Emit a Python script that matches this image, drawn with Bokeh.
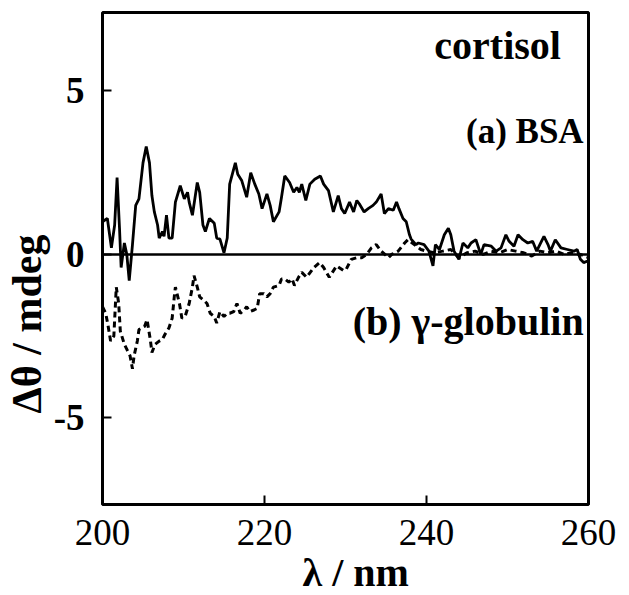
from bokeh.plotting import figure
from bokeh.models import Label, Span, FixedTicker, Range1d, Title
from bokeh.embed import file_html
from bokeh.resources import INLINE

# (a) BSA, solid line
wl_bsa = [200.0, 200.6, 201.1, 201.5, 201.8, 202.1, 202.3, 202.7, 203.0, 203.3,
          203.7, 204.1, 204.5, 205.0, 205.4, 205.8, 206.1, 206.4, 206.8, 207.0,
          207.4, 207.6, 207.9, 208.2, 208.6, 209.0, 209.6, 210.1, 210.5, 210.7,
          211.1, 211.7, 212.0, 212.4, 212.7, 213.2, 213.8, 214.1, 214.5, 215.0,
          215.4, 215.7, 216.4, 216.7, 217.2, 217.8, 218.3, 218.8, 219.3, 219.7,
          220.3, 220.7, 221.1, 221.8, 222.1, 222.5, 223.1, 223.6, 224.0, 224.3,
          224.6, 225.1, 225.6, 226.2, 226.9, 227.3, 227.9, 228.5, 229.1, 229.5,
          229.9, 230.5, 231.0, 231.4, 231.7, 232.3, 232.8, 233.4, 233.8, 234.4,
          234.8, 235.3, 235.9, 236.3, 236.6, 237.1, 237.5, 237.9, 238.1, 238.7,
          239.0, 239.7, 240.3, 240.8, 241.1, 241.6, 242.2, 242.7, 243.0, 243.4,
          244.0, 244.5, 245.1, 245.5, 246.1, 246.7, 247.1, 248.0, 248.6, 249.2,
          249.8, 250.2, 250.8, 251.3, 251.9, 252.5, 253.1, 253.6, 254.1, 254.5,
          255.0, 255.3, 255.9, 256.6, 257.4, 258.2, 258.6, 259.0, 259.4, 259.9]
cd_bsa = [1.0, 1.1, 0.2, 0.9, 2.35, 0.8, -0.4, 0.35, 0.0, -0.8,
          0.3, 1.5, 1.7, 2.8, 3.3, 2.8, 1.8, 1.3, 0.9, 0.5,
          0.7, 0.55, 1.2, 0.5, 0.5, 1.6, 2.1, 1.7, 1.9, 1.6,
          1.2, 2.2, 1.9, 0.9, 0.7, 1.1, 0.95, 0.5, 0.47, 0.05,
          0.5, 2.15, 2.8, 2.45, 2.25, 1.75, 2.5, 2.15, 1.85, 1.4,
          1.85, 1.5, 1.0, 1.3, 1.75, 2.4, 2.2, 1.9, 2.05, 1.9,
          2.15, 1.65, 2.15, 2.3, 2.4, 2.15, 1.95, 1.3, 1.8, 1.4,
          1.25, 1.6, 1.3, 1.65, 1.55, 1.3, 1.4, 1.5, 1.6, 1.85,
          1.25, 1.4, 1.35, 1.6, 1.4, 1.1, 1.0, 0.6, 0.47, 0.3,
          0.35, 0.3, 0.1, -0.35, 0.3, 0.15, 0.6, 0.8, 0.6, 0.1,
          -0.15, 0.35, 0.2, 0.35, 0.45, 0.0, 0.3, 0.25, 0.1, 0.2,
          0.6, 0.4, 0.25, 0.6, 0.45, 0.35, 0.4, 0.1, 0.35, 0.55,
          0.3, 0.1, 0.45, 0.2, 0.15, 0.1, 0.15, -0.15, -0.25, -0.2]

# (b) gamma-globulin, dashed line
wl_glob = [200.0, 200.4, 200.7, 201.0, 201.4, 201.7, 202.0, 202.2, 202.7, 203.1,
           203.4, 203.7, 203.9, 204.3, 204.5, 205.2, 205.5, 205.9, 206.1, 206.5,
           207.0, 207.4, 207.7, 208.2, 208.6, 208.9, 209.0, 209.5, 209.8, 210.2,
           210.7, 211.1, 211.3, 211.7, 212.0, 212.5, 212.9, 213.3, 213.8, 214.1,
           214.5, 215.0, 215.4, 215.7, 216.2, 216.6, 217.0, 217.5, 217.8, 218.2,
           218.7, 219.1, 219.4, 219.9, 220.3, 220.7, 221.1, 221.8, 222.1, 222.5,
           223.0, 223.4, 223.7, 224.2, 224.6, 225.2, 226.1, 226.8, 227.3, 228.0,
           228.9, 229.8, 230.1, 230.7, 231.4, 232.0, 232.6, 233.2, 233.8, 234.4,
           235.3, 235.7, 236.5, 237.3, 237.7, 238.5, 239.3, 240.0, 241.0, 242.0,
           243.0, 244.0, 245.0, 246.0, 247.0, 248.0, 249.0, 250.0, 251.0, 252.0,
           253.0, 254.0, 255.0, 256.0, 257.0, 258.0, 259.0, 260.0]
cd_glob = [-1.6, -1.8, -2.2, -2.65, -2.5, -1.0, -1.5, -2.35, -2.75, -2.95,
           -3.1, -3.5, -3.1, -2.65, -2.3, -2.2, -2.0, -2.6, -3.0, -2.75,
           -2.65, -2.6, -2.45, -2.25, -1.95, -1.2, -1.0, -1.5, -1.95, -1.9,
           -1.5, -1.0, -0.65, -1.0, -1.3, -1.4, -1.5, -1.8, -1.9, -2.1,
           -1.75, -1.9, -1.8, -1.8, -1.75, -1.5, -1.8, -1.7, -1.6, -1.75,
           -1.7, -1.65, -1.2, -1.2, -1.3, -1.2, -1.0, -0.95, -0.75, -0.75,
           -0.85, -0.75, -0.95, -0.7, -0.55, -0.7, -0.4, -0.25, -0.4, -0.7,
           -0.35, -0.5, -0.45, -0.15, -0.1, -0.1, 0.0, 0.2, 0.3, 0.1,
           -0.1, 0.0, 0.1, 0.35, 0.45, 0.3, 0.15, 0.1, 0.05, 0.1,
           0.15, -0.1, 0.05, 0.1, 0.0, 0.1, 0.05, 0.15, 0.1, 0.05,
           -0.05, 0.1, 0.05, 0.1, 0.0, 0.05, 0.0, -0.1]

x_ticks = [200, 220, 240, 260]
y_ticks = [-5, 0, 5]
y_tick_labels = {-5: "-5", 0: "0", 5: "5"}

SERIF = "Liberation Serif"

p = figure(width=627, height=595, x_range=Range1d(200, 260), y_range=Range1d(-7.65, 7.4),
           output_backend="svg", toolbar_location=None,
           min_border_left=100, min_border_right=39, min_border_top=12, min_border_bottom=91)

p.xgrid.visible = False
p.ygrid.visible = False
p.background_fill_color = "white"
p.border_fill_color = "white"
p.outline_line_color = "black"
p.outline_line_width = 3

p.xaxis.ticker = FixedTicker(ticks=x_ticks)
p.yaxis.ticker = FixedTicker(ticks=y_ticks)
p.yaxis.major_label_overrides = y_tick_labels
for ax in (p.xaxis[0], p.yaxis[0]):
    ax.axis_line_color = None
    ax.major_tick_in = 9
    ax.major_tick_out = 0
    ax.major_tick_line_width = 2
    ax.minor_tick_line_color = None
    ax.major_label_text_font = SERIF
    ax.major_label_text_color = "black"
p.xaxis.major_label_text_font_size = "37px"
p.xaxis.major_label_standoff = 15
p.yaxis.major_label_text_font_size = "37px"
p.yaxis.major_label_text_font_style = "bold"
p.yaxis.major_label_standoff = 18

p.add_layout(Title(text="λ / nm", text_font=SERIF, text_font_size="40px",
                   text_font_style="bold", text_color="black", align="left",
                   offset=200, standoff=0), "below")
p.add_layout(Title(text="Δθ / mdeg", text_font=SERIF, text_font_size="42px",
                   text_font_style="bold", text_color="black", align="left",
                   offset=91, standoff=2), "left")

p.add_layout(Span(location=0, dimension="width", line_color="black", line_width=2.5))

p.line(wl_bsa, cd_bsa, line_color="black", line_width=2.8)
p.line(wl_glob, cd_glob, line_color="black", line_width=3, line_dash="6 4")

def lab(x, y, text, size):
    p.add_layout(Label(x=x, y=y, text=text, text_font=SERIF, text_font_size=size,
                       text_font_style="bold", text_align="right", text_baseline="middle",
                       text_color="black"))

lab(256.6, 6.4, "cortisol", "40px")
lab(259.4, 3.75, "(a) BSA", "35px")
lab(259.4, -2.05, "(b) γ-globulin", "40px")

open("out.html", "w").write(file_html(p, INLINE))
